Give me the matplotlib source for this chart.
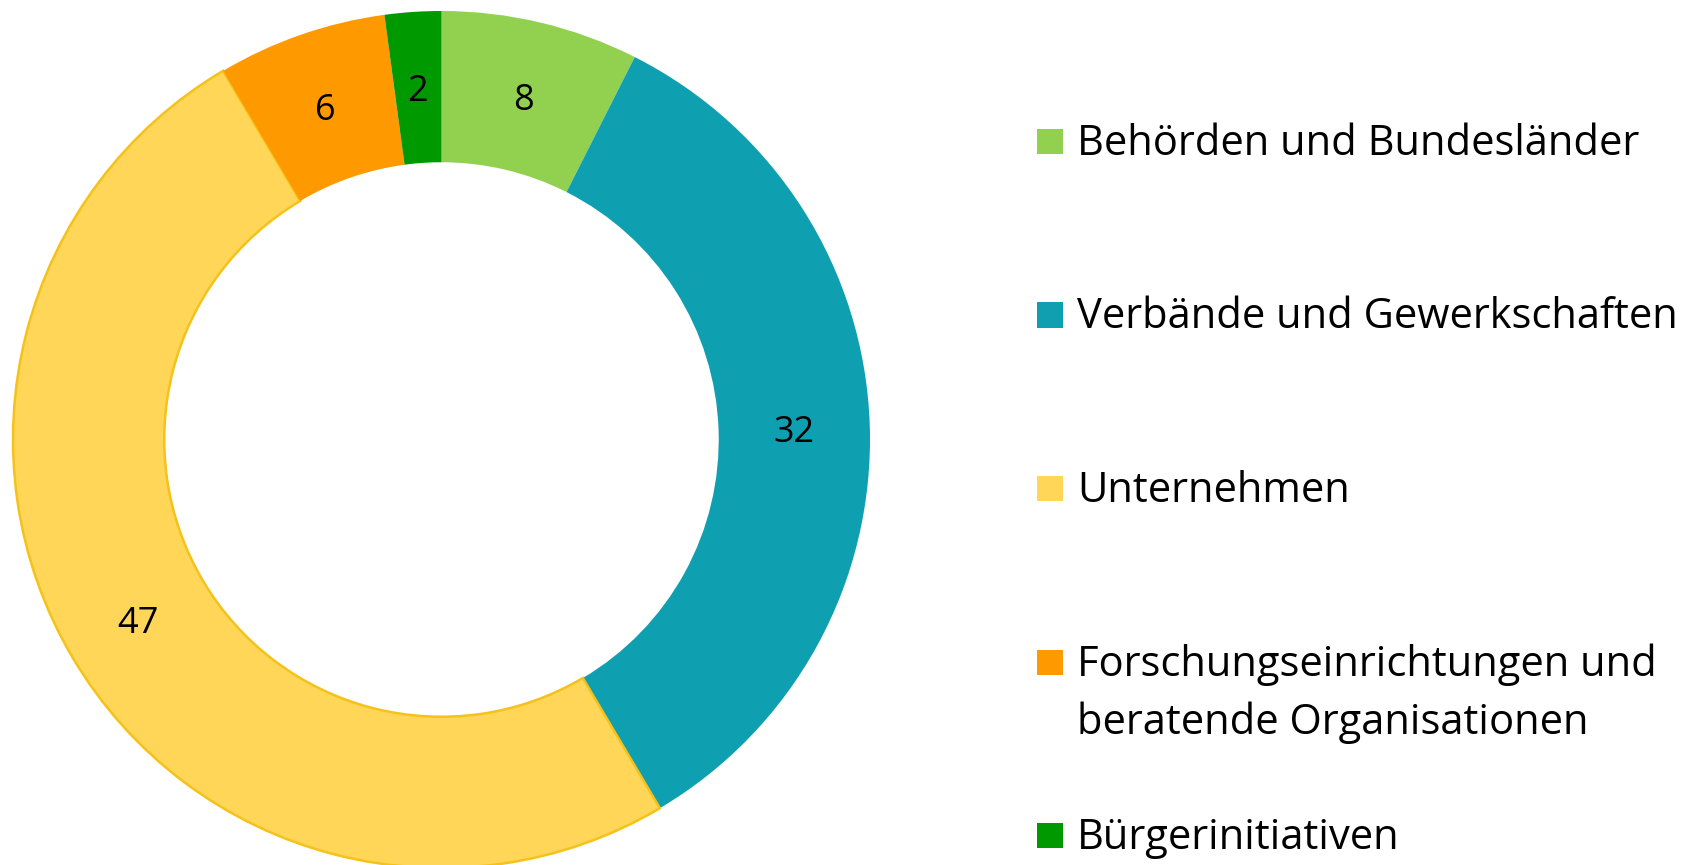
import matplotlib
matplotlib.use("Agg")
import matplotlib.pyplot as plt
from matplotlib.patches import Rectangle

plt.rcParams['font.family'] = ['Open Sans', 'DejaVu Sans']

categories = ["Behörden und Bundesländer",
              "Verbände und Gewerkschaften",
              "Unternehmen",
              "Forschungseinrichtungen und\nberatende Organisationen",
              "Bürgerinitiativen"]
# slice sizes as drawn in the picture (first slice measures ~7/94 of the ring)
values = [7, 32, 47, 6, 2]
# numbers printed on the ring
value_labels = ["8", "32", "47", "6", "2"]
colors = ["#92D050", "#0E9FB0", "#FFD658", "#FF9900", "#009900"]
edge_colors = ["none", "none", "#F5C21A", "none", "none"]

W, H = 1704, 865
fig = plt.figure(figsize=(W / 100, H / 100), dpi=100)

# donut centred at (441.5, 439.5) px, outer radius 428.5 px
cx, cy, r = 441.5, 439.5, 428.5
ax = fig.add_axes([(cx - r) / W, (H - cy - r) / H, 2 * r / W, 2 * r / H])
ring = 0.353
wedges, texts, autotexts = ax.pie(
    values, colors=colors, startangle=90, counterclock=False,
    wedgeprops=dict(width=ring, linewidth=0),
    autopct="%d", pctdistance=1 - ring / 2,
    textprops=dict(fontsize=26, color="black"))
for t, s in zip(autotexts, value_labels):
    t.set_text(s)
    x, y = t.get_position()
    t.set_position((x, y - 5 / r))  # nudge down a few pixels
for w, ec in zip(wedges, edge_colors):
    if ec != "none":
        w.set_edgecolor(ec)
        w.set_linewidth(1.8)
ax.set_xlim(-1, 1)
ax.set_ylim(-1, 1)
ax.set_aspect("equal")
ax.axis("off")

# legend drawn by hand, rows spaced evenly
row_y0, row_step, line_step = 141.5, 173.5, 59
for i, (lab, col) in enumerate(zip(categories, colors)):
    yc = row_y0 + i * row_step
    fig.add_artist(Rectangle((1037 / W, 1 - (yc + 12.5) / H), 26 / W, 25 / H,
                             transform=fig.transFigure, facecolor=col,
                             edgecolor="none"))
    for j, line in enumerate(lab.split("\n")):
        fig.text(1077 / W, 1 - (yc + 13.5 + j * line_step) / H, line,
                 fontsize=30, va="baseline", ha="left", color="black")

fig.savefig("out.png", dpi=100)
